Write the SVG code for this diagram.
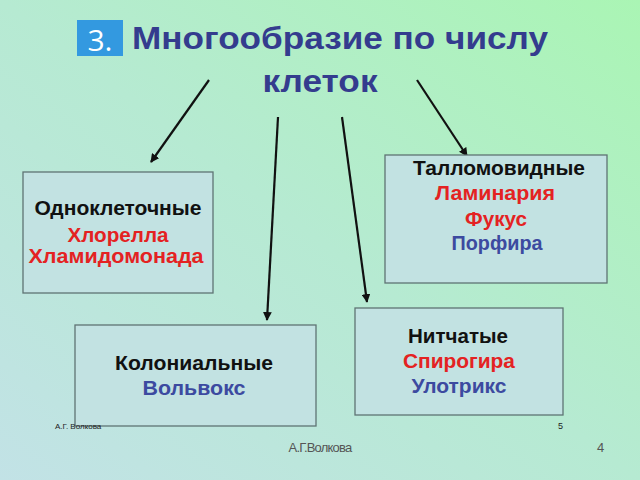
<svg xmlns="http://www.w3.org/2000/svg" width="640" height="480" viewBox="0 0 640 480">
<defs>
<linearGradient id="bg" x1="0" y1="1" x2="1" y2="0">
<stop offset="0" stop-color="#c2e2e6"/>
<stop offset="0.5" stop-color="#b6ead2"/>
<stop offset="1" stop-color="#aaf5b4"/>
</linearGradient>
<marker id="ah" viewBox="0 0 10 10" refX="9" refY="5" markerWidth="4" markerHeight="4" orient="auto" markerUnits="strokeWidth">
<path d="M0,0 L10,5 L0,10 z" fill="#111"/>
</marker>
<style>
.box{fill:#c2e2e2;stroke:#5f7373;stroke-width:1.3}
.t{font-family:"Liberation Sans",Arial,sans-serif;font-weight:bold;text-anchor:middle;font-size:19.5px}
.k{fill:#111}
.r{fill:#e42222}
.b{fill:#3c4aa0}
.conn{stroke:#111;stroke-width:2.2;fill:none;marker-end:url(#ah)}
</style>
</defs>
<rect width="640" height="480" fill="url(#bg)"/>
<g id="title">
<rect x="77" y="20" width="46" height="36" fill="#3399e0"/>
<text x="100" y="51" font-family="'Open Sans','Liberation Sans',sans-serif" font-size="30" fill="#fff" text-anchor="middle">3.</text>
<text x="132" y="49" font-family="'Liberation Sans',Arial,sans-serif" font-weight="bold" font-size="31" fill="#343c8e" textLength="416" lengthAdjust="spacingAndGlyphs">Многообразие по числу</text>
<text x="320" y="92" font-family="'Liberation Sans',Arial,sans-serif" font-weight="bold" font-size="31" fill="#343c8e" text-anchor="middle" textLength="115" lengthAdjust="spacingAndGlyphs">клеток</text>
</g>
<g id="connectors">
<line class="conn" x1="209" y1="80" x2="151" y2="162"/>
<line class="conn" x1="417" y1="80" x2="467" y2="156"/>
<line class="conn" x1="278" y1="117" x2="267" y2="320"/>
<line class="conn" x1="342" y1="117" x2="367" y2="302"/>
</g>
<g id="n1">
<rect class="box" x="23" y="172" width="190" height="121"/>
<text class="t k" x="118" y="215" textLength="167" lengthAdjust="spacingAndGlyphs">Одноклеточные</text>
<text class="t r" x="118" y="242" textLength="101" lengthAdjust="spacingAndGlyphs">Хлорелла</text>
<text class="t r" x="116" y="263" textLength="175" lengthAdjust="spacingAndGlyphs">Хламидомонада</text>
</g>
<g id="n2">
<rect class="box" x="385" y="155" width="222" height="128"/>
<text class="t k" x="499" y="175" textLength="172" lengthAdjust="spacingAndGlyphs">Талломовидные</text>
<text class="t r" x="495" y="200" textLength="120" lengthAdjust="spacingAndGlyphs">Ламинария</text>
<text class="t r" x="496" y="226" textLength="62" lengthAdjust="spacingAndGlyphs">Фукус</text>
<text class="t b" x="497" y="250" textLength="91" lengthAdjust="spacingAndGlyphs">Порфира</text>
</g>
<g id="n3">
<rect class="box" x="75" y="325" width="241" height="101"/>
<text class="t k" x="194" y="370" textLength="158" lengthAdjust="spacingAndGlyphs">Колониальные</text>
<text class="t b" x="194" y="395" textLength="103" lengthAdjust="spacingAndGlyphs">Вольвокс</text>
</g>
<g id="n4">
<rect class="box" x="355" y="308" width="208" height="107"/>
<text class="t k" x="458" y="343" textLength="100" lengthAdjust="spacingAndGlyphs">Нитчатые</text>
<text class="t r" x="459" y="368" textLength="112" lengthAdjust="spacingAndGlyphs">Спирогира</text>
<text class="t b" x="459" y="393" textLength="95" lengthAdjust="spacingAndGlyphs">Улотрикс</text>
</g>
<g id="footer" font-family="'Liberation Sans',Arial,sans-serif">
<text x="55" y="429" font-size="8" fill="#222">А.Г. Волкова</text>
<text x="558" y="429" font-size="9" fill="#222">5</text>
<text x="320" y="452" font-size="13" fill="#555" text-anchor="middle" letter-spacing="-0.8">А.Г.Волкова</text>
<text x="597" y="452" font-size="13" fill="#555">4</text>
</g>
</svg>
